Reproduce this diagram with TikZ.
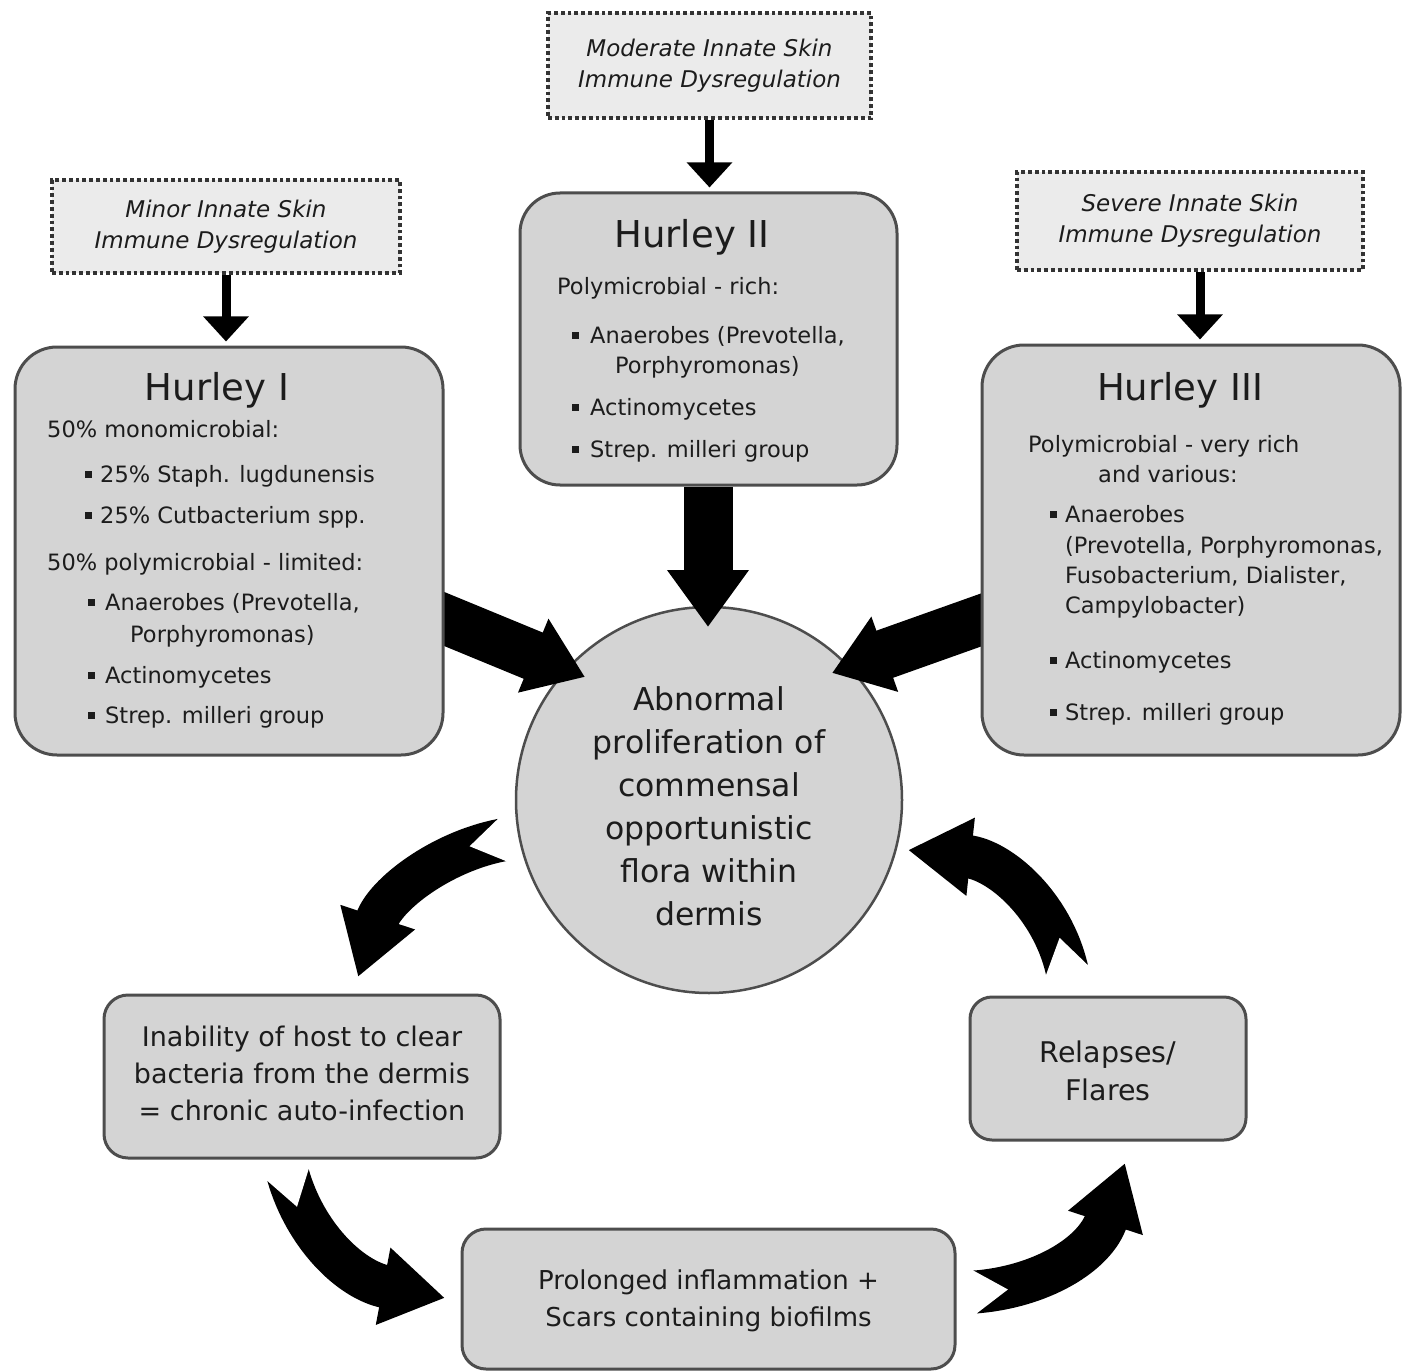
\documentclass[tikz,border=0pt]{standalone}
\usepackage{fontspec}
\setmainfont{DejaVu Sans}
\usetikzlibrary{arrows.meta,calc}
\definecolor{boxfill}{HTML}{D4D4D4}
\definecolor{dashfill}{HTML}{EBEBEB}
\definecolor{edgec}{HTML}{4D4D4D}
\definecolor{ink}{HTML}{1C1C1C}
\pgfdeclarelayer{back}
\pgfdeclarelayer{mid}
\pgfsetlayers{back,mid,main}
\newcommand\bitem[4]{\node[body] (#1b) at (#2) {\rule[4.5pt]{6.5pt}{6.5pt}};\node[body] (#1) at (#3) {#4};}
\begin{document}
\begin{tikzpicture}[x=1pt,y=-1pt,
 hbox/.style={draw=edgec,line width=3pt,fill=boxfill,rounded corners=42pt,inner sep=0pt},
 sbox/.style={draw=edgec,line width=3pt,fill=boxfill,rounded corners=24pt,inner sep=0pt},
 dbox/.style={draw=black!80,line width=3.8pt,dash pattern=on 3.8pt off 3pt,fill=dashfill,inner sep=0pt},
 body/.style={anchor=base west,inner sep=0pt,text=ink,font=\fontsize{22.5}{27}\selectfont},
 htitle/.style={anchor=base,inner sep=0pt,text=ink,font=\fontsize{37}{44}\selectfont},
 dtext/.style={align=center,inner sep=0pt,text=ink,font=\fontsize{23}{31}\selectfont\itshape},
 ctext/.style={align=center,inner sep=0pt,text=ink},
 circ/.style={circle,draw=edgec,line width=2.5pt,fill=boxfill,minimum size=386pt,inner sep=0pt},
 thinarrow/.style={line width=9pt,-{Triangle[length=25pt,width=44pt]}},
 heavy/.style={line width=50pt,-{Triangle[length=56pt,width=76pt]}},
 curvy/.style={line width=43pt,-{Triangle[length=63pt,width=74pt]}},
 notch/.style={fill=white,draw=none}
]
\useasboundingbox (0,0) rectangle (1403,1372);
\begin{pgfonlayer}{back}
\fill[white] (0,0) rectangle (1403,1372);
\node[circ] (circ) at (709,800) {};
\end{pgfonlayer}

% dashed boxes
\node[dbox,minimum width=323pt,minimum height=105pt] (dm) at (709.5,65.5) {};
\node[dbox,minimum width=348pt,minimum height=93pt] (dl) at (226,226.5) {};
\node[dbox,minimum width=346pt,minimum height=98pt] (dr) at (1190,221) {};
\node[dtext] (dmt) at (dm.center) {Moderate Innate Skin\\Immune Dysregulation};
\node[dtext] (dlt) at (dl.center) {Minor Innate Skin\\Immune Dysregulation};
\node[dtext] (drt) at (dr.center) {Severe Innate Skin\\Immune Dysregulation};

% Hurley boxes
\node[hbox,minimum width=428pt,minimum height=408pt] (h1) at (229,551) {};
\node[hbox,rounded corners=40pt,minimum width=377pt,minimum height=292pt] (h2) at (708.5,339) {};
\node[hbox,minimum width=418pt,minimum height=410pt] (h3) at (1191,550) {};

% lower boxes
\node[sbox,minimum width=396pt,minimum height=163pt] (inab) at (302,1076.5) {};
\node[sbox,rounded corners=22pt,minimum width=276pt,minimum height=143pt] (rel) at (1108,1068.5) {};
\node[sbox,minimum width=493pt,minimum height=140pt] (prol) at (708.5,1299) {};

% Hurley I text
\node[htitle] (h1t) at (217,400) {Hurley I};
\node[body] (h1a) at (47,437) {50\% monomicrobial:};
\bitem{h1c}{85,482}{100,482}{25\% Staph. lugdunensis}
\bitem{h1d}{85,523}{100,523}{25\% Cutbacterium spp.}
\node[body] (h1e) at (47,570) {50\% polymicrobial - limited:};
\bitem{h1f}{88,610}{105,610}{Anaerobes (Prevotella,}
\node[body] (h1g) at (130,642) {Porphyromonas)};
\bitem{h1h}{88,683}{105,683}{Actinomycetes}
\bitem{h1i}{88,723}{105,723}{Strep. milleri group}

% Hurley II text
\node[htitle] (h2t) at (692,248) {Hurley II};
\node[body] (h2a) at (557,295) {Polymicrobial - rich:};
\bitem{h2c}{572,343}{590,343}{Anaerobes (Prevotella,}
\node[body] (h2d) at (615,373) {Porphyromonas)};
\bitem{h2e}{572,415}{590,415}{Actinomycetes}
\bitem{h2f}{572,457}{590,457}{Strep. milleri group}

% Hurley III text
\node[htitle] (h3t) at (1180,400) {Hurley III};
\node[body] (h3a) at (1028,452) {Polymicrobial - very rich};
\node[body] (h3b) at (1098,482) {and various:};
\bitem{h3c}{1050,522}{1065,522}{Anaerobes}
\node[body] (h3d) at (1065,553) {(Prevotella, Porphyromonas,};
\node[body] (h3e) at (1065,583) {Fusobacterium, Dialister,};
\node[body] (h3f) at (1065,613) {Campylobacter)};
\bitem{h3g}{1050,668}{1065,668}{Actinomycetes}
\bitem{h3h}{1050,720}{1065,720}{Strep. milleri group}

% centre and lower texts
\node[ctext,font=\fontsize{31.5}{43}\selectfont] (circt) at (709,806) {Abnormal\\proliferation of\\commensal\\opportunistic\\flora within\\dermis};
\node[ctext,font=\fontsize{27}{37}\selectfont] (inabt) at (302,1073) {Inability of host to clear\\bacteria from the dermis\\= chronic auto-infection};
\node[ctext,font=\fontsize{28.5}{38}\selectfont] (relt) at (1108,1071) {Relapses/\\Flares};
\node[ctext,font=\fontsize{26}{37}\selectfont] (prolt) at (708.5,1301) {Prolonged inflammation +\\Scars containing biofilms};

\begin{pgfonlayer}{mid}
% thin arrows
\draw[thinarrow,shorten >=4pt] (dm.south) -- (dm.south |- h2.north);
\draw[thinarrow,shorten >=4pt] (dl.south) -- (dl.south |- h1.north);
\draw[thinarrow,shorten >=4pt] ($(dr.south)+(10,0)$) -- ($(dr.south |- h3.north)+(10,0)$);
% heavy straight arrows
\coordinate (t2) at (708,627);
\draw[heavy,line width=49pt,-{Triangle[length=57pt,width=78pt]}] (h2.south -| t2) -- (t2);
\coordinate (s1) at (420,609);
\coordinate (t1) at (585,677);
\draw[heavy] (s1) -- (t1);
\coordinate (s3) at (1002,612.5);
\coordinate (t3) at (832,673);
\draw[heavy] (s3) -- (t3);
% curved arrows
\coordinate (a1) at (502,840); \coordinate (a1c) at (440,852); \coordinate (a1d) at (385,895); \coordinate (a1e) at (358,977);
\draw[curvy] (a1) .. controls (a1c) and (a1d) .. (a1e);
\coordinate (b1) at (1067,970); \coordinate (b1c) at (1052,905); \coordinate (b1d) at (1000,860); \coordinate (b1e) at (908,850);
\draw[curvy] (b1) .. controls (b1c) and (b1d) .. (b1e);
\coordinate (c1) at (288,1175); \coordinate (c1c) at (305,1235); \coordinate (c1d) at (350,1280); \coordinate (c1e) at (445,1298);
\draw[curvy] (c1) .. controls (c1c) and (c1d) .. (c1e);
\coordinate (d1) at (975,1292); \coordinate (d1c) at (1040,1287); \coordinate (d1d) at (1095,1255); \coordinate (d1e) at (1125,1163);
\draw[curvy] (d1) .. controls (d1c) and (d1d) .. (d1e);
% swallow-tail notches
\foreach \p in {a1,b1,c1,d1}{
  \coordinate (\p n) at ($(\p)!33pt!(\p c)$);
  \coordinate (\p k) at ($(\p)!21.5pt!90:(\p c)$);
  \coordinate (\p m) at ($(\p)!21.5pt!-90:(\p c)$);
  \fill[notch] ($(\p n)!1.3!(\p k)$) -- (\p n) -- ($(\p n)!1.3!(\p m)$) -- cycle;
}
\end{pgfonlayer}
\end{tikzpicture}
\end{document}
